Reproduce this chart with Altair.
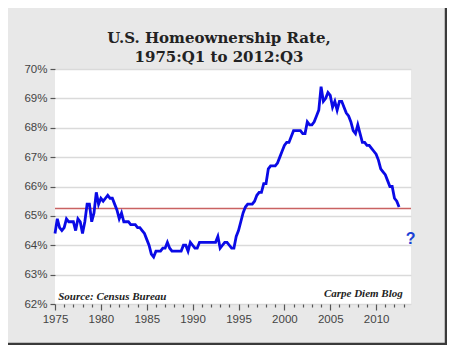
import altair as alt
import pandas as pd

# Quarterly homeownership rate (%), 1975:Q1 .. 2012:Q3
rate = [
    64.4, 64.9, 64.6, 64.5,   # 1975
    64.6, 64.9, 64.8, 64.8,   # 1976
    64.8, 64.5, 64.9, 64.8,   # 1977
    64.4, 64.8, 65.4, 65.4,   # 1978
    64.8, 65.1, 65.8, 65.4,   # 1979
    65.6, 65.5, 65.6, 65.7,   # 1980
    65.6, 65.6, 65.4, 65.2,   # 1981
    64.9, 65.1, 64.8, 64.8,   # 1982
    64.8, 64.7, 64.7, 64.7,   # 1983
    64.6, 64.6, 64.5, 64.4,   # 1984
    64.2, 64.0, 63.7, 63.6,   # 1985
    63.8, 63.8, 63.8, 63.9,   # 1986
    63.9, 64.1, 63.9, 63.8,   # 1987
    63.8, 63.8, 63.8, 63.8,   # 1988
    64.0, 64.0, 63.8, 64.1,   # 1989
    64.0, 63.9, 63.9, 64.1,   # 1990
    64.1, 64.1, 64.1, 64.1,   # 1991
    64.1, 64.1, 64.1, 64.3,   # 1992
    63.9, 64.0, 64.1, 64.1,   # 1993
    64.0, 63.9, 63.9, 64.3,   # 1994
    64.5, 64.8, 65.1, 65.3,   # 1995
    65.4, 65.4, 65.4, 65.5,   # 1996
    65.7, 65.8, 65.8, 66.1,   # 1997
    66.1, 66.6, 66.7, 66.7,   # 1998
    66.7, 66.8, 67.0, 67.2,   # 1999
    67.4, 67.5, 67.5, 67.7,   # 2000
    67.9, 67.9, 67.9, 67.9,   # 2001
    67.8, 67.8, 68.2, 68.1,   # 2002
    68.1, 68.2, 68.4, 68.6,   # 2003
    69.4, 68.9, 69.0, 69.2,   # 2004
    69.1, 68.7, 68.9, 68.6,   # 2005
    68.9, 68.9, 68.7, 68.5,   # 2006
    68.4, 68.2, 67.9, 67.8,   # 2007
    68.1, 67.8, 67.5, 67.5,   # 2008
    67.4, 67.4, 67.3, 67.2,   # 2009
    67.1, 66.9, 66.6, 66.5,   # 2010
    66.4, 66.2, 66.0, 66.0,   # 2011
    65.6, 65.5, 65.3,         # 2012
]
start_year = 1975
quarter_time = [start_year + i / 4 for i in range(len(rate))]

avg_rate = [65.25]
y_ticks = [62, 63, 64, 65, 66, 67, 68, 69, 70]
x_ticks = list(range(1975, 2014))
x_domain = [1975, 2013.8]
y_domain = [62, 70]
title_lines = ["U.S. Homeownership Rate,", "1975:Q1 to 2012:Q3"]

qmark = pd.DataFrame({"t": [2013.75], "v": [64.2], "s": ["?"]})
notes = pd.DataFrame({
    "t": [1975.35, 2012.9],
    "v": [62.15, 62.25],
    "s": ["Source: Census Bureau", "Carpe Diem Blog"],
})

df = pd.DataFrame({"t": quarter_time, "v": rate})

x_scale = alt.Scale(domain=x_domain, nice=False, zero=False)
y_scale = alt.Scale(domain=y_domain, nice=False, zero=False)

x_axis = alt.Axis(
    values=x_ticks,
    labelExpr="datum.value % 5 == 0 ? datum.label : ''",
    format="d",
    grid=False,
    domain=False,
    tickColor="#555555",
    tickWidth=1.2,
    tickSize={"condition": {"test": "datum.value % 5 == 0", "value": 6}, "value": 3},
    labelColor="#444444",
    labelFont="Liberation Sans",
    labelFontSize=11.5,
    labelPadding=3,
    labelOverlap=False,
    labelFlush=False,
    title=None,
)
y_axis = alt.Axis(
    values=y_ticks,
    labelExpr="datum.value + '%'",
    grid=True,
    gridColor="#dadada",
    gridWidth=1.5,
    domain=False,
    tickColor="#555555",
    tickWidth=1.2,
    tickSize=5,
    labelColor="#444444",
    labelFont="Liberation Sans",
    labelFontSize=11.5,
    labelPadding=3,
    labelOverlap=False,
    labelFlush=False,
    title=None,
)

X = alt.X("t:Q", scale=x_scale, axis=x_axis)
Y = alt.Y("v:Q", scale=y_scale, axis=y_axis)

line = alt.Chart(df).mark_line(color="#0a0ae6", strokeWidth=2.8).encode(x=X, y=Y)

avg = alt.Chart(pd.DataFrame({"v": avg_rate})).mark_rule(
    color="#c96262", strokeWidth=1.5
).encode(y=Y)

q = alt.Chart(qmark).mark_text(
    color="#1a3fd6", font="Liberation Sans", fontWeight="bold", fontSize=16,
    align="center", baseline="middle",
).encode(x=X, y=Y, text="s:N")

src = alt.Chart(notes.iloc[[0]]).mark_text(
    color="#222222", font="Liberation Serif", fontWeight="bold", fontStyle="italic",
    fontSize=11, align="left", baseline="alphabetic",
).encode(x=X, y=Y, text="s:N")

blog = alt.Chart(notes.iloc[[1]]).mark_text(
    color="#222222", font="Liberation Serif", fontWeight="bold", fontStyle="italic",
    fontSize=11, align="right", baseline="alphabetic",
).encode(x=X, y=Y, text="s:N")

title1 = alt.Chart(pd.DataFrame({"s": [title_lines[0]]})).mark_text(
    color="#222222", font="DejaVu Serif", fontWeight="bold", fontSize=15,
    align="center", baseline="middle",
).encode(x=alt.value(164), y=alt.value(-31), text="s:N")
title2 = alt.Chart(pd.DataFrame({"s": [title_lines[1]]})).mark_text(
    color="#222222", font="DejaVu Serif", fontWeight="bold", fontSize=15,
    align="center", baseline="middle",
).encode(x=alt.value(164), y=alt.value(-12), text="s:N")

# decorative picture-frame edges (right and bottom)
frame_right = alt.Chart(pd.DataFrame({"k": [0]})).mark_rule(
    color="#3a3a3a", strokeWidth=2.5
).encode(x=alt.value(391), y=alt.value(-61), y2=alt.value(276))
frame_bottom = alt.Chart(pd.DataFrame({"k": [0]})).mark_rule(
    color="#3a3a3a", strokeWidth=2.5
).encode(x=alt.value(-52), x2=alt.value(392), y=alt.value(275))

chart = alt.layer(
    avg, line, q, src, blog, title1, title2, frame_right, frame_bottom
).properties(
    width=356,
    height=235,
    background="#e8e8e8",
    padding={"left": 47, "top": 61, "right": 36, "bottom": 41},
    autosize=alt.AutoSizeParams(type="none"),
).configure_view(fill="white", stroke=None)

chart.save("out.html", embed_options={"renderer": "svg", "actions": False})
